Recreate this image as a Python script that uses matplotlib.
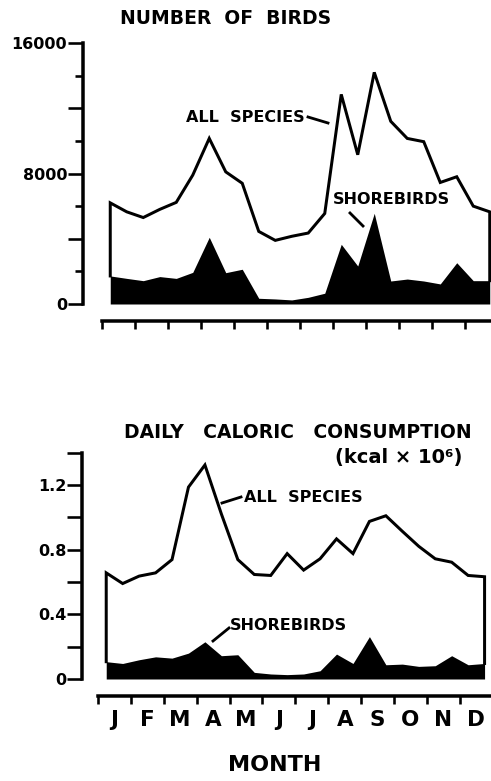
import numpy as np
import matplotlib
matplotlib.use('Agg')
import matplotlib.pyplot as plt

# twice-monthly samples, in month units (tick i = start of month i)
x = np.arange(24) * 0.5 + 0.25
months = ['J', 'F', 'M', 'A', 'M', 'J', 'J', 'A', 'S', 'O', 'N', 'D']

birds_all = [6200, 5650, 5300, 5800, 6230, 7900, 10150, 8100, 7400, 4450, 3900, 4150,
             4350, 5550, 12850, 9150, 14200, 11200, 10150, 9950, 7450, 7800, 6000, 5650]
birds_shore = [1720, 1570, 1430, 1680, 1570, 1940, 4090, 1920, 2130, 350, 310, 250,
               410, 660, 3660, 2330, 5560, 1410, 1530, 1410, 1230, 2530, 1430, 1430]

kcal_all = [0.656, 0.59, 0.636, 0.656, 0.738, 1.186, 1.323, 1.02, 0.738, 0.646, 0.64, 0.775,
            0.673, 0.743, 0.866, 0.775, 0.974, 1.009, 0.913, 0.82, 0.743, 0.722, 0.64, 0.632]
kcal_shore = [0.107, 0.096, 0.119, 0.137, 0.129, 0.16, 0.23, 0.144, 0.15, 0.041, 0.031, 0.027,
              0.031, 0.051, 0.154, 0.096, 0.262, 0.088, 0.092, 0.078, 0.082, 0.144, 0.088, 0.096]

W, H = 491, 781
DPI = 100
PT = 72.0 / DPI  # points per pixel
FONT = 'DejaVu Sans'

fig = plt.figure(figsize=(W / DPI, H / DPI), dpi=DPI)
fig.patch.set_facecolor('white')


def panel(left, bottom, xscale, yheight, ymax, all_vals, shore_vals,
          long_ticks, short_ticks, ylabels, out_left, out_bottom, show_months):
    ax = fig.add_axes([left / W, (H - bottom) / H, 12 * xscale / W, yheight / H])
    ax.set_xlim(0, 12)
    ax.set_ylim(0, ymax)
    ax.patch.set_visible(False)

    ax.fill_between(x, 0, shore_vals, color='black', lw=0)
    xx = np.r_[x[0], x, x[-1]]
    yy = np.r_[shore_vals[0], all_vals, shore_vals[-1]]
    ax.plot(xx, yy, color='black', lw=3.0 * PT, solid_joinstyle='miter')

    for s in ['top', 'right']:
        ax.spines[s].set_visible(False)
    ax.spines['left'].set_position(('outward', out_left * PT))
    ax.spines['bottom'].set_position(('outward', out_bottom * PT))
    ax.spines['left'].set_bounds(0, ymax)
    ax.spines['bottom'].set_bounds(0, 12)
    for s in ['left', 'bottom']:
        ax.spines[s].set_linewidth(3.5 * PT)
        ax.spines[s].set_capstyle('projecting')

    ax.set_yticks(long_ticks)
    ax.set_yticklabels([ylabels.get(v, '') for v in long_ticks])
    ax.set_yticks(short_ticks, minor=True)
    ax.tick_params(axis='y', which='major', length=15 * PT, width=2.6 * PT, pad=0.5,
                   labelsize=11.5)
    ax.tick_params(axis='y', which='minor', length=8 * PT, width=2.6 * PT)
    for lab in ax.get_yticklabels():
        lab.set_fontweight('bold')
        lab.set_fontfamily(FONT)

    ax.set_xticks(np.arange(13))
    ax.set_xticklabels([''] * 13)
    ax.tick_params(axis='x', which='major', direction='out', length=8 * PT, width=2.6 * PT)
    ax.set_xticks(np.arange(12) + 0.5, minor=True)
    if show_months:
        ax.set_xticklabels(months, minor=True, fontsize=15.5, fontweight='bold', family=FONT)
        ax.tick_params(axis='x', which='minor', length=0, pad=10)
    else:
        ax.tick_params(axis='x', which='minor', length=0, labelbottom=False)
    return ax


ax1 = panel(102, 304, 33.0, 261, 16000, birds_all, birds_shore,
            long_ticks=[0, 4000, 8000, 12000, 16000],
            short_ticks=[2000, 6000, 10000, 14000],
            ylabels={0: '0', 8000: '8000', 16000: '16000'},
            out_left=19, out_bottom=17, show_months=False)

ax2 = panel(98, 679, 32.9, 226.5, 1.4, kcal_all, kcal_shore,
            long_ticks=[0, 0.2, 0.4, 0.6, 0.8, 1.0, 1.2, 1.4],
            short_ticks=[],
            ylabels={0: '0', 0.4: '0.4', 0.8: '0.8', 1.2: '1.2'},
            out_left=16, out_bottom=17, show_months=True)


def ftext(px, py, s, size, ha='center'):
    fig.text(px / W, 1 - py / H, s, ha=ha, va='center', fontsize=size,
             fontweight='bold', family=FONT)


def leader(p0, p1):
    fig.add_artist(plt.Line2D([p0[0] / W, p1[0] / W], [1 - p0[1] / H, 1 - p1[1] / H],
                              color='black', lw=2.8 * PT, transform=fig.transFigure))


ftext(226, 18, 'NUMBER  OF  BIRDS', 13.5)
ftext(245, 117, 'ALL  SPECIES', 11.5)
leader((308, 117), (328, 123))
ftext(391, 200, 'SHOREBIRDS', 11.5)
leader((350, 213), (363, 226))

ftext(298, 432, 'DAILY   CALORIC   CONSUMPTION', 13.5)
ftext(399, 458, '(kcal × 10⁶)', 14)
ftext(303, 497, 'ALL  SPECIES', 11.5)
leader((222, 503), (241, 497))
ftext(288, 626, 'SHOREBIRDS', 11.5)
leader((213, 641), (229, 628))

ftext(275, 765, 'MONTH', 16)

fig.savefig('out.png', dpi=DPI, facecolor='white')
